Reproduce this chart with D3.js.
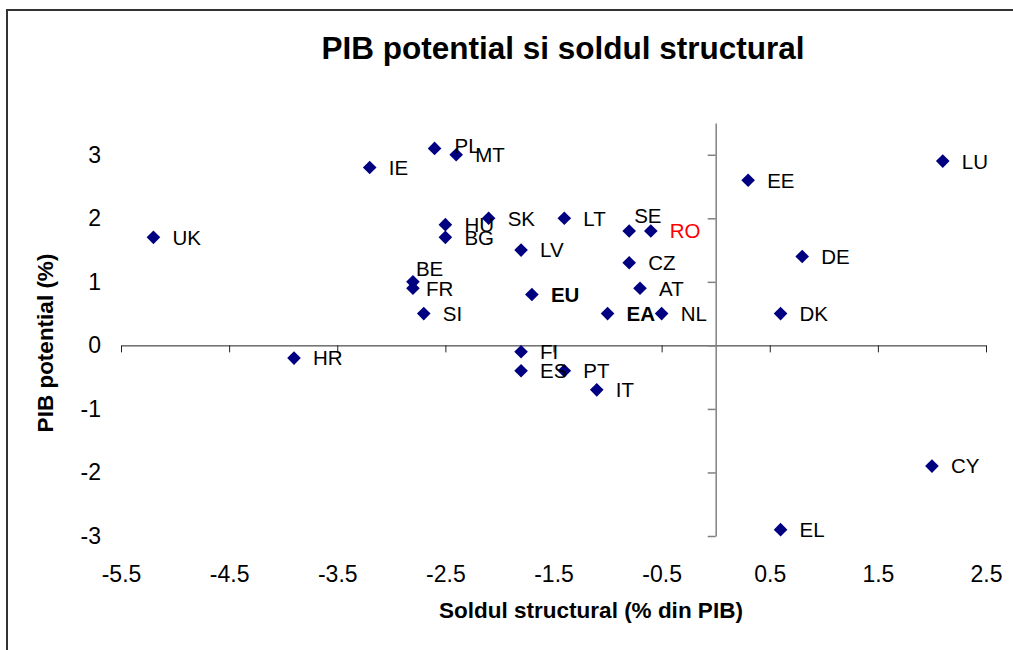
<!DOCTYPE html>
<html>
<head>
<meta charset="utf-8">
<script src="https://cdn.jsdelivr.net/npm/d3@7"></script>
<style>
  body { margin: 0; background: #fff; }
  svg { display: block; font-family: 'Liberation Sans', Arial, sans-serif; }
  .axis text { fill: #000; }
</style>
</head>
<body>
<div id="chart"></div>
<script>
// Structural balance (% GDP) vs potential GDP growth (%)
const countries = ['UK', 'IE', 'PL', 'MT', 'HU', 'BG', 'SK', 'LT', 'LV', 'SE', 'RO', 'CZ', 'AT', 'EU', 'EA', 'NL',
  'BE', 'FR', 'SI', 'HR', 'FI', 'ES', 'PT', 'IT', 'EE', 'LU', 'DE', 'DK', 'CY', 'EL']
const structuralBalance = [-5.2, -3.2, -2.6, -2.4, -2.5, -2.5, -2.1, -1.4, -1.8, -0.8, -0.6, -0.8, -0.7, -1.7, -1.0, -0.5,
  -2.8, -2.8, -2.7, -3.9, -1.8, -1.8, -1.4, -1.1, 0.3, 2.1, 0.8, 0.6, 2.0, 0.6]
const potentialGdp = [1.7, 2.8, 3.1, 3.0, 1.9, 1.7, 2.0, 2.0, 1.5, 1.8, 1.8, 1.3, 0.9, 0.8, 0.5, 0.5,
  1.0, 0.9, 0.5, -0.2, -0.1, -0.4, -0.4, -0.7, 2.6, 2.9, 1.4, 0.5, -1.9, -2.9]
const boldLabels = ['EU', 'EA']
const highlighted = 'RO'

const xTicks = [-5.5, -4.5, -3.5, -2.5, -1.5, -0.5, 0.5, 1.5, 2.5]
const yTicks = [-3, -2, -1, 0, 1, 2, 3]

const width = 1013
const height = 650
const plot = { left: 121, right: 986, top: 123, bottom: 536 }

// plain hyphen for negatives, like the original
const locale = d3.formatLocale({ decimal: '.', thousands: ',', grouping: [3], currency: ['', ''], minus: '-' })

const datapoints = countries.map((c, i) => ({
  country: c,
  x: structuralBalance[i],
  y: potentialGdp[i]
}))

const svg = d3
  .select('#chart')
  .append('svg')
  .attr('width', width)
  .attr('height', height)

// outer chart border (runs off the right and bottom edges)
svg
  .append('rect')
  .attr('x', 7)
  .attr('y', 10)
  .attr('width', width + 20)
  .attr('height', height + 20)
  .attr('fill', 'none')
  .attr('stroke', '#333')
  .attr('stroke-width', 2)

const xPositionScale = d3.scaleLinear().domain([-5.5, 2.5]).range([plot.left, plot.right])
const yPositionScale = d3.scaleLinear().domain([-3, 3.5]).range([plot.bottom, plot.top])

// axis lines crossing at zero
const xAxisLine = d3.axisBottom(xPositionScale).tickValues(xTicks).tickSize(7).tickSizeOuter(0).tickFormat('')
svg
  .append('g')
  .attr('class', 'axis x-line')
  .attr('transform', 'translate(0,' + yPositionScale(0) + ')')
  .call(xAxisLine)
svg.selectAll('.x-line path, .x-line line').attr('stroke', '#222').attr('stroke-width', 1)

const yAxisLine = d3.axisLeft(yPositionScale).tickValues(yTicks).tickSize(8).tickSizeOuter(0).tickFormat('')
svg
  .append('g')
  .attr('class', 'axis y-line')
  .attr('transform', 'translate(' + xPositionScale(0) + ',0)')
  .call(yAxisLine)
svg.selectAll('.y-line path, .y-line line').attr('stroke', '#808080').attr('stroke-width', 1.5)

// tick labels sit at the plot edges, Excel style
const xAxis = d3.axisBottom(xPositionScale).tickValues(xTicks).tickSize(0).tickPadding(30).tickFormat(locale.format('.1f'))
svg
  .append('g')
  .attr('class', 'axis x-axis')
  .attr('transform', 'translate(0,' + plot.bottom + ')')
  .call(xAxis)
  .attr('font-size', 23)
  .attr('font-family', null)
svg.select('.x-axis .domain').remove()

const yAxis = d3.axisLeft(yPositionScale).tickValues(yTicks).tickSize(0).tickPadding(20).tickFormat(locale.format('d'))
svg
  .append('g')
  .attr('class', 'axis y-axis')
  .attr('transform', 'translate(' + plot.left + ',0)')
  .call(yAxis)
  .attr('font-size', 23)
  .attr('font-family', null)
svg.select('.y-axis .domain').remove()

// markers
const diamond = 'M0,-6.8L6.8,0L0,6.8L-6.8,0Z'
svg
  .selectAll('.marker')
  .data(datapoints)
  .enter()
  .append('path')
  .attr('class', 'marker')
  .attr('d', diamond)
  .attr('fill', '#000080')
  .attr('transform', d => 'translate(' + xPositionScale(d.x) + ',' + yPositionScale(d.y) + ')')

// labels, a few were dragged by hand in the original
const labelNudge = { BE: [-16, -13], FR: [-6, 0], PL: [1, -3], SE: [-14, -15] }
svg
  .selectAll('.label')
  .data(datapoints)
  .enter()
  .append('text')
  .attr('class', 'label')
  .attr('x', d => xPositionScale(d.x) + 19 + (labelNudge[d.country] ? labelNudge[d.country][0] : 0))
  .attr('y', d => yPositionScale(d.y) + (labelNudge[d.country] ? labelNudge[d.country][1] : 0))
  .attr('dy', '0.36em')
  .attr('font-size', 20.5)
  .attr('font-weight', d => (boldLabels.includes(d.country) ? 'bold' : 'normal'))
  .attr('fill', d => (d.country === highlighted ? '#ff0000' : '#000'))
  .text(d => d.country)

// titles
svg
  .append('text')
  .attr('x', 563)
  .attr('y', 59)
  .attr('text-anchor', 'middle')
  .attr('font-size', 31.5)
  .attr('font-weight', 'bold')
  .text('PIB potential si soldul structural')

svg
  .append('text')
  .attr('x', 591)
  .attr('y', 618)
  .attr('text-anchor', 'middle')
  .attr('font-size', 22.5)
  .attr('font-weight', 'bold')
  .text('Soldul structural (% din PIB)')

svg
  .append('text')
  .attr('transform', 'translate(53,343) rotate(-90)')
  .attr('text-anchor', 'middle')
  .attr('font-size', 22.5)
  .attr('font-weight', 'bold')
  .text('PIB potential (%)')
</script>
</body>
</html>
